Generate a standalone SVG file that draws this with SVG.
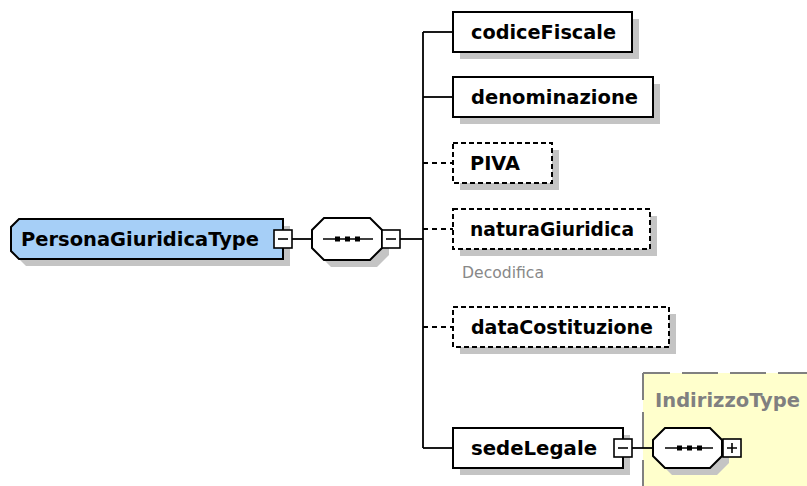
<svg xmlns="http://www.w3.org/2000/svg" width="807" height="486" viewBox="0 0 807 486">
<defs>
<style>
.bg{fill:#ffffff}
.shadow{fill:#c4c4c4;stroke:none}
.box{fill:#ffffff;stroke:#000;stroke-width:2}
.opt{fill:#ffffff;stroke:#000;stroke-width:2;stroke-dasharray:5 3}
.main{fill:#a6cff7;stroke:#000;stroke-width:2}
.btn{fill:#ffffff;stroke:#000;stroke-width:1.6}
.sym{stroke:#000;stroke-width:1.6;fill:none}
.conn{stroke:#000;stroke-width:1.8;fill:none}
.dconn{stroke:#000;stroke-width:1.8;fill:none;stroke-dasharray:5 4}
.lbl{font-family:"DejaVu Sans","Liberation Sans",sans-serif;font-weight:bold;font-size:20px;fill:#000}
.glbl{font-family:"DejaVu Sans","Liberation Sans",sans-serif;font-weight:bold;font-size:20px;fill:#808080}
.note{font-family:"DejaVu Sans","Liberation Sans",sans-serif;font-size:15px;fill:#888888}
.dot{fill:#000}
.ybox{fill:#ffffcc;stroke:none}
.yborder{stroke:#808080;stroke-width:2;fill:none;stroke-dasharray:36 12;stroke-dashoffset:9}
</style>
</defs>
<rect class="bg" x="0" y="0" width="807" height="486"/>

<g id="IndirizzoType">
<rect class="ybox" x="643" y="373" width="170" height="120"/>
<path class="yborder" d="M643,373 L810,373"/>
<path class="yborder" d="M643,373 L643,490"/>
<text class="glbl" x="655" y="407" textLength="145" lengthAdjust="spacingAndGlyphs">IndirizzoType</text>
</g>

<g id="connectors">
<path class="conn" d="M292,239 L312,239"/>
<path class="conn" d="M400,239 L423,239"/>
<path class="conn" d="M423,32 L423,448"/>
<path class="conn" d="M423,32 L453,32"/>
<path class="conn" d="M423,97 L453,97"/>
<path class="dconn" d="M423,163 L453,163"/>
<path class="dconn" d="M423,229 L453,229"/>
<path class="dconn" d="M423,327 L453,327"/>
<path class="conn" d="M423,448 L453,448"/>
<path class="conn" d="M632,448 L653,448"/>
</g>

<g id="PersonaGiuridicaType">
<path class="shadow" d="M26,226 L290,226 L290,266 L26,266 L18,258 L18,234 Z"/>
<path class="main" d="M19,219 L283,219 L283,259 L19,259 L11,251 L11,227 Z"/>
<text class="lbl" x="21" y="246" textLength="238" lengthAdjust="spacingAndGlyphs">PersonaGiuridicaType</text>
<rect class="btn" x="274" y="230" width="18" height="18"/>
<path class="sym" d="M278,239 L288,239"/>
</g>

<g id="sequence1">
<path class="shadow" d="M331,225 L377,225 L389,237 L389,255 L377,267 L331,267 L319,255 L319,237 Z"/>
<path class="box" d="M324,218 L370,218 L382,230 L382,248 L370,260 L324,260 L312,248 L312,230 Z"/>
<path class="sym" d="M323,239 L373,239"/>
<rect class="dot" x="335" y="236.5" width="5" height="5"/>
<rect class="dot" x="345" y="236.5" width="5" height="5"/>
<rect class="dot" x="355" y="236.5" width="5" height="5"/>
<rect class="btn" x="382" y="230" width="18" height="18"/>
<path class="sym" d="M386,239 L396,239"/>
</g>

<g id="codiceFiscale">
<rect class="shadow" x="460" y="19" width="179" height="40"/>
<rect class="box" x="453" y="12" width="179" height="40"/>
<text class="lbl" x="471" y="39" textLength="145" lengthAdjust="spacingAndGlyphs">codiceFiscale</text>
</g>

<g id="denominazione">
<rect class="shadow" x="460" y="84" width="200" height="40"/>
<rect class="box" x="453" y="77" width="200" height="40"/>
<text class="lbl" x="471" y="104" textLength="167" lengthAdjust="spacingAndGlyphs">denominazione</text>
</g>

<g id="PIVA">
<rect class="shadow" x="460" y="150" width="99" height="40"/>
<rect class="opt" x="453" y="143" width="99" height="40"/>
<text class="lbl" x="470" y="170" textLength="50" lengthAdjust="spacingAndGlyphs">PIVA</text>
</g>

<g id="naturaGiuridica">
<rect class="shadow" x="460" y="216" width="197" height="40"/>
<rect class="opt" x="453" y="209" width="197" height="40"/>
<text class="lbl" x="470" y="236" textLength="164" lengthAdjust="spacingAndGlyphs">naturaGiuridica</text>
<text class="note" x="462" y="278" textLength="82" lengthAdjust="spacingAndGlyphs">Decodifica</text>
</g>

<g id="dataCostituzione">
<rect class="shadow" x="460" y="314" width="216" height="40"/>
<rect class="opt" x="453" y="307" width="216" height="40"/>
<text class="lbl" x="471" y="334" textLength="182" lengthAdjust="spacingAndGlyphs">dataCostituzione</text>
</g>

<g id="sedeLegale">
<rect class="shadow" x="460" y="435" width="170" height="40"/>
<rect class="box" x="453" y="428" width="170" height="40"/>
<text class="lbl" x="471" y="455" textLength="126" lengthAdjust="spacingAndGlyphs">sedeLegale</text>
<rect class="btn" x="614" y="439" width="18" height="18"/>
<path class="sym" d="M618,448 L628,448"/>
</g>

<g id="sequence2">
<path class="shadow" d="M672,435 L717,435 L729,447 L729,463 L717,475 L672,475 L660,463 L660,447 Z"/>
<path class="box" d="M665,428 L710,428 L722,440 L722,456 L710,468 L665,468 L653,456 L653,440 Z"/>
<path class="sym" d="M665,448 L713,448"/>
<rect class="dot" x="677" y="445.5" width="5" height="5"/>
<rect class="dot" x="687" y="445.5" width="5" height="5"/>
<rect class="dot" x="697" y="445.5" width="5" height="5"/>
<rect class="btn" x="723" y="439" width="18" height="18"/>
<path class="sym" d="M727,448 L737,448 M732,443 L732,453"/>
</g>
</svg>
